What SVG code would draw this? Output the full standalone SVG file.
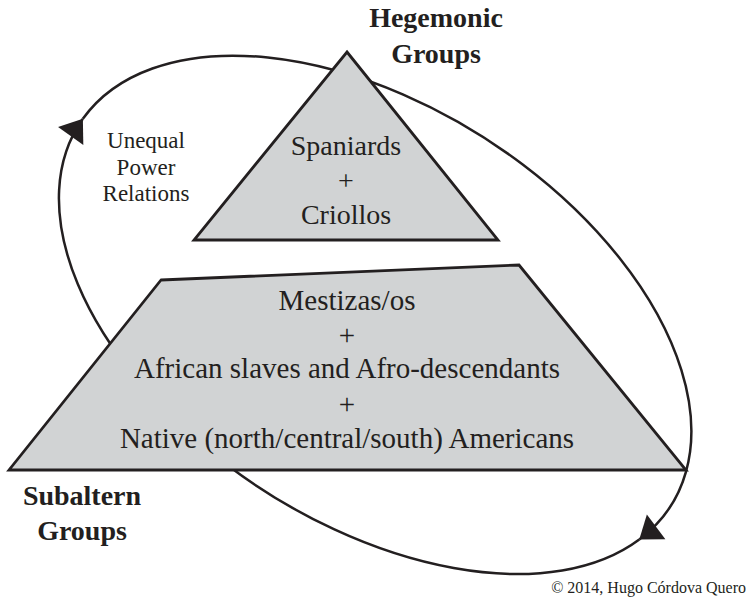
<svg xmlns="http://www.w3.org/2000/svg" width="748" height="611" viewBox="0 0 748 611">
<style>
  .shape { fill: #d1d3d4; stroke: #231f20; stroke-width: 2.8; stroke-linejoin: miter; }
  .conn { fill: none; stroke: #231f20; stroke-width: 2.5; }
  .t { font-family: "Liberation Serif", "Times New Roman", serif; fill: #231f20; text-anchor: middle; }
  .b { font-weight: bold; font-size: 28px; }
  .tri { font-size: 28px; }
  .trap { font-size: 29px; }
  .lbl { font-size: 23px; }
  .copy { font-size: 16px; text-anchor: end; }
</style>
<defs>
  <marker id="head" markerUnits="userSpaceOnUse" viewBox="-24 -16 32 32" markerWidth="32" markerHeight="32" refX="0" refY="0" orient="auto" overflow="visible">
    <path d="M0,0 L-21,-15.5 L-21,15.5 Z" fill="#231f20"/>
  </marker>
</defs>
<rect width="748" height="611" fill="#ffffff"/>
<g id="connectors">
  <path class="conn" d="M82.87,118.80 A352,208 33 1 1 639.28,539.45" marker-end="url(#head)"/>
  <path class="conn" d="M639.28,539.45 A352,208 33 0 1 82.87,118.80" marker-end="url(#head)"/>
</g>
<g id="hegemonic">
  <polygon class="shape" points="347,52 498,240 194,240"/>
  <text class="t tri" x="346" y="155">Spaniards</text>
  <text class="t tri" x="346" y="190">+</text>
  <text class="t tri" x="346" y="224">Criollos</text>
</g>
<g id="subaltern">
  <polygon class="shape" points="161,280 519,265 686,470 9,470"/>
  <text class="t trap" x="347" y="310">Mestizas/os</text>
  <text class="t trap" x="347" y="345">+</text>
  <text class="t trap" x="347" y="378">African slaves and Afro-descendants</text>
  <text class="t trap" x="347" y="414">+</text>
  <text class="t trap" x="347" y="448">Native (north/central/south) Americans</text>
</g>
<g id="hegemonic-label">
  <text class="t b" x="436" y="27">Hegemonic</text>
  <text class="t b" x="436" y="63">Groups</text>
</g>
<g id="subaltern-label">
  <text class="t b" x="82" y="505">Subaltern</text>
  <text class="t b" x="82" y="540">Groups</text>
</g>
<g id="relations-label">
  <text class="t lbl" x="146" y="148">Unequal</text>
  <text class="t lbl" x="146" y="175">Power</text>
  <text class="t lbl" x="146" y="201">Relations</text>
</g>
<g id="copyright">
  <text class="t copy" x="746" y="593">© 2014, Hugo Córdova Quero</text>
</g>
</svg>
